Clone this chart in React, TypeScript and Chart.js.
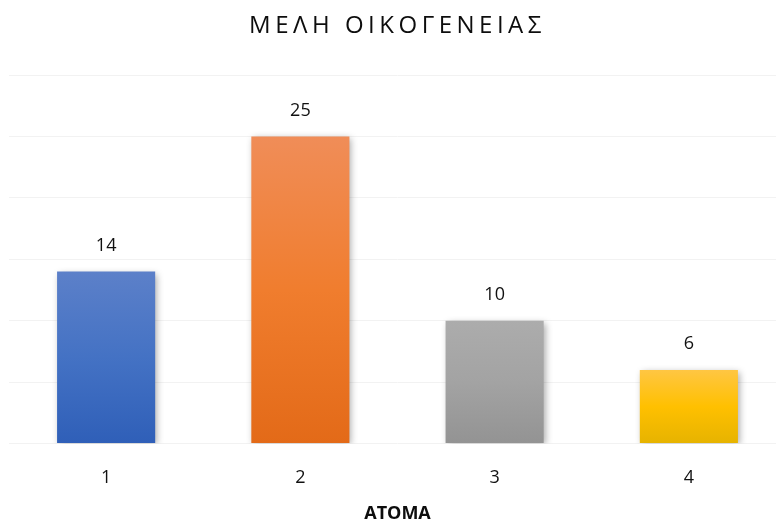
import React, { useEffect, useRef } from "react";
import { Chart, registerables } from "chart.js";

Chart.register(...registerables);

const categories = ["1", "2", "3", "4"];
const values = [14, 25, 10, 6];
const chartTitle = "ΜΕΛΗ ΟΙΚΟΓΕΝΕΙΑΣ";
const axisTitle = "ΑΤΟΜΑ";
const gradStops: string[][] = [
  ["#5c80c9", "#4472c4", "#2f5fb8"],
  ["#f08d58", "#f07d2e", "#e36a18"],
  ["#acacac", "#a3a3a3", "#939393"],
  ["#ffc643", "#ffc000", "#e6b300"],
];

const FONT = "'Open Sans', 'Noto Sans', sans-serif";

export default function App() {
  const ref = useRef<HTMLCanvasElement | null>(null);
  useEffect(() => {
    document.documentElement.style.overflow = "hidden";
    const canvas = ref.current!;
    const shadowPlugin = {
      id: "shadow",
      beforeDatasetDraw(chart: any) {
        const ctx = chart.ctx;
        ctx.save();
        ctx.shadowColor = "rgba(0,0,0,0.35)";
        ctx.shadowBlur = 7;
        ctx.shadowOffsetX = 2;
        ctx.shadowOffsetY = 2;
      },
      afterDatasetDraw(chart: any) {
        chart.ctx.restore();
      },
    };
    const labelPlugin = {
      id: "labels",
      afterDatasetsDraw(chart: any) {
        const ctx = chart.ctx;
        const meta = chart.getDatasetMeta(0);
        ctx.save();
        ctx.font = `18px ${FONT}`;
        ctx.fillStyle = "#111";
        ctx.textAlign = "center";
        ctx.textBaseline = "middle";
        meta.data.forEach((bar: any, i: number) => {
          ctx.fillText(String(values[i]), bar.x, bar.y - 26);
        });
        ctx.restore();
      },
      afterDraw(chart: any) {
        const ctx = chart.ctx;
        const a = chart.chartArea;
        ctx.save();
        ctx.font = `24px ${FONT}`;
        (ctx as any).letterSpacing = "4.5px";
        ctx.fillStyle = "#0d0d0d";
        ctx.textAlign = "center";
        ctx.textBaseline = "middle";
        ctx.fillText(chartTitle, (a.left + a.right) / 2, 26);
        ctx.restore();
      },
    };
    const chart = new Chart(canvas, {
      type: "bar",
      data: {
        labels: categories,
        datasets: [
          {
            data: values,
            barPercentage: 1,
            categoryPercentage: 0.505,
            backgroundColor: (ctx: any) => {
              const c = ctx.chart;
              const i = ctx.dataIndex ?? 0;
              const y = c.scales?.y;
              if (!y || !c.chartArea) return gradStops[i][1];
              const top = y.getPixelForValue(values[i]);
              const bot = y.getPixelForValue(0);
              if (!Number.isFinite(top) || !Number.isFinite(bot) || top === bot) return gradStops[i][1];
              const g = c.ctx.createLinearGradient(0, top, 0, bot);
              g.addColorStop(0, gradStops[i][0]);
              g.addColorStop(0.5, gradStops[i][1]);
              g.addColorStop(1, gradStops[i][2]);
              return g;
            },
          },
        ],
      },
      options: {
        animation: false,
        responsive: false,
        maintainAspectRatio: false,
        layout: { padding: { top: 75, left: 9, right: 4, bottom: 0 } },
        plugins: {
          legend: { display: false },
          tooltip: { enabled: false },
          title: { display: false },
        },
        scales: {
          x: {
            grid: { display: false },
            border: { display: false },
            ticks: {
              font: { family: FONT, size: 18 },
              color: "#111",
              padding: 15,
            },
            title: {
              display: true,
              text: axisTitle,
              font: { family: FONT, size: 18, weight: "bold", lineHeight: 0.6 },
              color: "#0d0d0d",
              padding: { top: 5, bottom: 0 },
            },
          },
          y: {
            min: 0,
            max: 30,
            ticks: { display: false, stepSize: 5 },
            border: { display: false },
            grid: { color: "#f2f2f2", drawTicks: false, lineWidth: 1 },
          },
        },
      },
      plugins: [shadowPlugin, labelPlugin],
    });
    return () => chart.destroy();
  }, []);
  return (
    <div style={{ position: "absolute", left: 0, top: 0, width: 790, height: 519, background: "#fff" }}>
      <canvas ref={ref} width={790} height={519} style={{ width: 790, height: 519 }} />
    </div>
  );
}
